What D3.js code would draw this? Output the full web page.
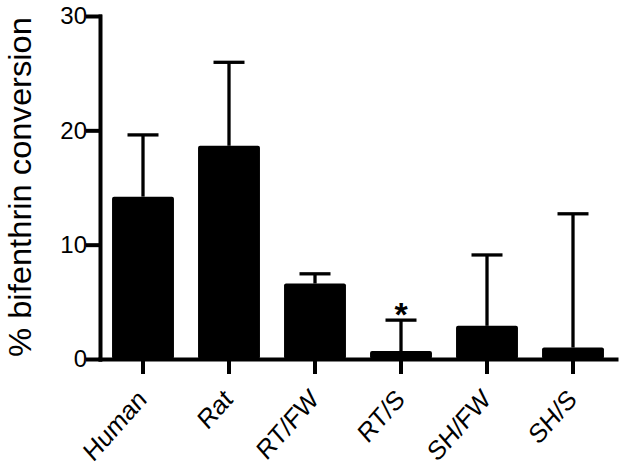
<!DOCTYPE html>
<html>
<head>
<meta charset="utf-8">
<script src="https://cdn.jsdelivr.net/npm/d3@7.9.0/dist/d3.min.js"></script>
<style>
  html, body { margin: 0; padding: 0; background: #fff; }
  svg { display: block; font-family: "Liberation Sans", Arial, sans-serif; }
</style>
</head>
<body>
<svg id="chart"></svg>
<script>
// --- data ---
const groups = ["Human", "Rat", "RT/FW", "RT/S", "SH/FW", "SH/S"];
const means = [14.2, 18.65, 6.6, 0.7, 2.9, 1.0];
const upper = [19.6, 25.95, 7.45, 3.4, 9.1, 12.7];   // top of error bar
const marked = ["RT/S"];                              // asterisk
const yTicks = [0, 10, 20, 30];

const width = 624;
const height = 472;

const svg = d3.select("#chart")
  .attr("width", width)
  .attr("height", height);

// --- scales ---
const x = d3.scaleBand()
  .domain(groups)
  .range([100, 616])
  .paddingInner(0.28)
  .paddingOuter(0.14);

const y = d3.scaleLinear()
  .domain([0, 30])
  .range([359, 16]);

const rows = groups.map((g, i) => ({ g, mean: means[i], hi: upper[i] }));

// --- bars ---
svg.append("g")
  .selectAll("rect")
  .data(rows)
  .join("rect")
  .attr("x", (d) => x(d.g))
  .attr("y", (d) => y(d.mean))
  .attr("width", x.bandwidth())
  .attr("height", (d) => y(0) - y(d.mean))
  .attr("rx", 2)
  .attr("fill", "#000");

// --- error bars (upper only) ---
const err = svg.append("g")
  .attr("stroke", "#000")
  .attr("stroke-width", 3.3);

err.selectAll("line.stem")
  .data(rows)
  .join("line")
  .attr("class", "stem")
  .attr("x1", (d) => x(d.g) + x.bandwidth() / 2)
  .attr("x2", (d) => x(d.g) + x.bandwidth() / 2)
  .attr("y1", (d) => y(d.mean))
  .attr("y2", (d) => y(d.hi));

err.selectAll("line.cap")
  .data(rows)
  .join("line")
  .attr("class", "cap")
  .attr("x1", (d) => x(d.g) + x.bandwidth() / 2 - 15.5)
  .attr("x2", (d) => x(d.g) + x.bandwidth() / 2 + 15.5)
  .attr("y1", (d) => y(d.hi))
  .attr("y2", (d) => y(d.hi));

// --- significance marker ---
svg.append("g")
  .selectAll("text")
  .data(rows.filter((d) => marked.includes(d.g)))
  .join("text")
  .attr("x", (d) => x(d.g) + x.bandwidth() / 2)
  .attr("y", (d) => y(d.hi) + 6)
  .attr("text-anchor", "middle")
  .attr("font-size", 34)
  .attr("font-weight", "bold")
  .text("*");

// --- axes ---
const yAxis = svg.append("g")
  .attr("transform", "translate(100,0)")
  .call(d3.axisLeft(y).tickValues(yTicks).tickSize(12).tickSizeOuter(0).tickPadding(1));

const xAxis = svg.append("g")
  .attr("transform", `translate(0,${y(0)})`)
  .call(d3.axisBottom(x).tickSize(13).tickSizeOuter(0).tickFormat(""));

svg.selectAll(".domain, .tick line")
  .attr("stroke", "#000")
  .attr("stroke-width", 4)
  .attr("stroke-linecap", "square");

yAxis.selectAll(".tick text")
  .attr("font-size", 24)
  .attr("fill", "#000");

// rotated category labels (source image is a little taller than wide)
svg.append("g")
  .selectAll("text")
  .data(groups)
  .join("text")
  .attr("text-anchor", "end")
  .attr("transform", (d) => `translate(${x(d) + x.bandwidth() / 2 + 5},401) scale(1,1.13) rotate(-45)`)
  .attr("font-size", 24)
  .attr("fill", "#000")
  .text((d) => d);

// y title
svg.append("text")
  .attr("transform", "translate(31,187) rotate(-90)")
  .attr("text-anchor", "middle")
  .attr("font-size", 31)
  .attr("textLength", 340)
  .attr("lengthAdjust", "spacingAndGlyphs")
  .attr("fill", "#000")
  .text("% bifenthrin conversion");
</script>
</body>
</html>
